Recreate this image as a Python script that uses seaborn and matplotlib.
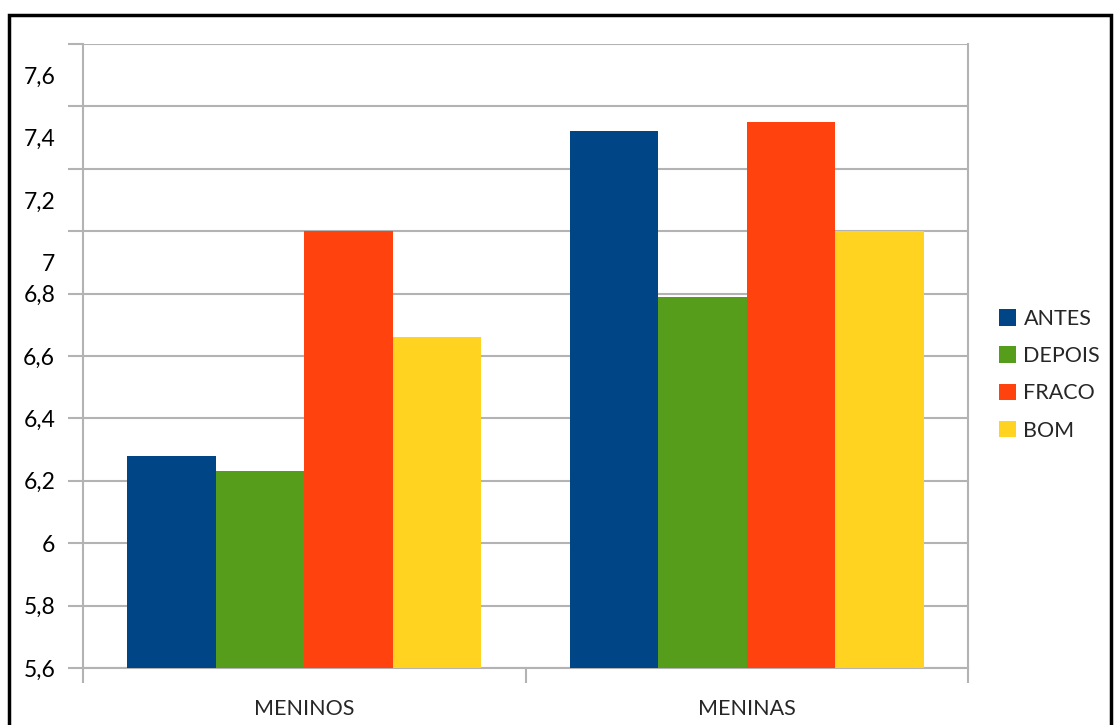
import matplotlib
matplotlib.use("Agg")
import matplotlib.pyplot as plt
from matplotlib.patches import Rectangle
import seaborn as sns
import pandas as pd

# Data
categories = ["MENINOS", "MENINAS"]
series = ["ANTES", "DEPOIS", "FRACO", "BOM"]
antes = [6.28, 7.32]
depois = [6.23, 6.79]
fraco = [7.0, 7.35]
bom = [6.66, 7.0]
colors = ["#004586", "#579D1C", "#FF420E", "#FFD320"]

grid_ticks = [5.6, 5.8, 6.0, 6.2, 6.4, 6.6, 6.8, 7.0, 7.2, 7.4, 7.6]
grid_labels = ["5,6", "5,8", "6", "6,2", "6,4", "6,6", "6,8", "", "", "", ""]
upper_label_pos = [6.9, 7.1, 7.3, 7.5]
upper_labels = ["7", "7,2", "7,4", "7,6"]

rows = []
for name, vals in zip(series, [antes, depois, fraco, bom]):
    for cat, v in zip(categories, vals):
        rows.append({"grupo": cat, "serie": name, "valor": v})
df = pd.DataFrame(rows)

sns.set_theme(style="white")
plt.rcParams["font.family"] = ["Lato", "DejaVu Sans"]

fig = plt.figure(figsize=(11.15, 7.25), dpi=100)
ax = fig.add_axes([83 / 1115, 57 / 725, (968 - 83) / 1115, (668 - 44) / 725])

sns.barplot(data=df, x="grupo", y="valor", hue="serie", order=categories,
            hue_order=series, palette=colors, saturation=1, width=0.8,
            edgecolor="none", linewidth=0, ax=ax, zorder=3)

ax.set_ylim(5.6, 7.6)
ax.set_xlim(-0.5, 1.5)
ax.set_xlabel("")
ax.set_ylabel("")

# Gridlines and y labels
ax.set_yticks(grid_ticks)
ax.set_yticklabels(grid_labels)
ax.set_yticks(upper_label_pos, minor=True)
ax.set_yticklabels(upper_labels, minor=True)
ax.yaxis.grid(True, which="major", color="#b3b3b3", linewidth=1.5, zorder=0)
ax.yaxis.grid(False, which="minor")
ax.tick_params(axis="y", which="major", length=11, width=1.5, color="#b3b3b3",
               labelsize=16.5, pad=9, colors="#b3b3b3", labelcolor="black", left=True)
ax.tick_params(axis="y", which="minor", length=0, labelsize=16.5, pad=20,
               labelcolor="black", left=True)

# Category ticks
ax.set_xticks([0, 1])
ax.set_xticklabels(categories)
ax.set_xticks([-0.5, 0.5, 1.5], minor=True)
ax.tick_params(axis="x", which="major", length=0, labelsize=15.5, pad=22)
ax.tick_params(axis="x", which="minor", length=11, width=1.5, color="#b3b3b3",
               bottom=True)

for side in ["left", "right", "bottom", "top"]:
    ax.spines[side].set_color("#b3b3b3")
    ax.spines[side].set_linewidth(1.5)
ax.spines["top"].set_visible(False)

# Legend
handles, labels = ax.get_legend_handles_labels()
ax.legend(handles, labels, loc="center left", bbox_to_anchor=(1.025, 0.47),
          frameon=False, fontsize=15.5, handlelength=0.8, handleheight=0.8,
          handletextpad=0.35, labelspacing=0.8, borderaxespad=0)

# Outer frame
fig.add_artist(Rectangle((8.5 / 1115, -0.05), (1111 - 8.5) / 1115,
                         (725 - 14.5) / 725 + 0.05, transform=fig.transFigure,
                         fill=False, edgecolor="black", linewidth=2.5))

fig.savefig("out.png", dpi=100)
